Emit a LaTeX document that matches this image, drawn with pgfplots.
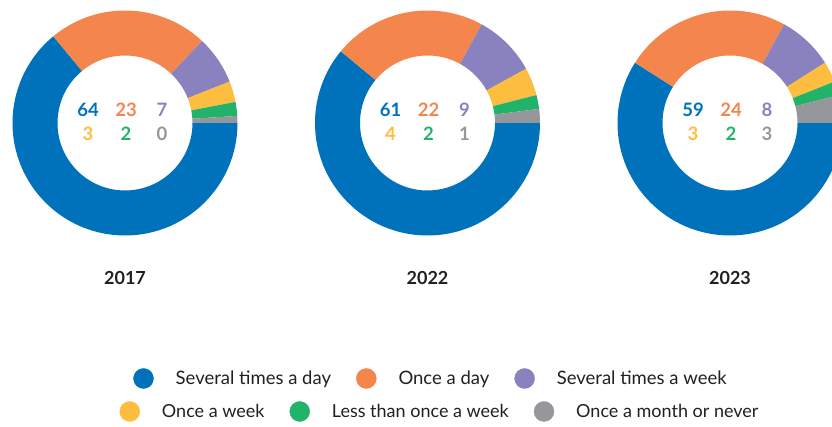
\documentclass[border=0pt]{standalone}
\usepackage{pgfplots}
\usepackage{pgfplotstable}
\usepackage{fontspec}
\setmainfont{Lato}
\pgfplotsset{compat=1.18}
\definecolor{cblue}{HTML}{0072BC}
\definecolor{corange}{HTML}{F4854D}
\definecolor{cpurple}{HTML}{8982BE}
\definecolor{cyellow}{HTML}{FDBE3F}
\definecolor{cgreen}{HTML}{22B36B}
\definecolor{cgray}{HTML}{96979A}
\definecolor{textdark}{HTML}{231F20}

% share (%) of each answer; gray row = remainder to 100
\pgfplotstableread{
freq y2017 y2022 y2023
0 64 61 59
1 23 22 24
2 7 9 8
3 3 4 3
4 2 2 2
5 1 2 4
}\data

\newcommand\donut[3]{%
  \xdef\acc{0}%
  \foreach \r/\c in {0/cblue,1/corange,2/cpurple,3/cyellow,4/cgreen,5/cgray}{%
    \pgfplotstablegetelem{\r}{#3}\of\data
    \pgfmathsetmacro\aone{-\acc*3.6}%
    \pgfmathsetmacro\newacc{\acc+\pgfplotsretval}%
    \xdef\acc{\newacc}%
    \pgfmathsetmacro\atwo{-\acc*3.6}%
    \fill[\c] (axis cs:#1,#2) ++(\aone:112.5pt)
      arc[start angle=\aone, end angle=\atwo, radius=112.5pt]
      -- ++(\atwo:-45pt)
      arc[start angle=\atwo, end angle=\aone, radius=67.5pt] -- cycle;
  }%
}

\newcommand\labels[8]{% cx cy six numbers
  \node[cblue]   at (axis cs:#1-37,#2+13) {#3};
  \node[corange] at (axis cs:#1+1,#2+13) {#4};
  \node[cpurple] at (axis cs:#1+37,#2+13) {#5};
  \node[cyellow] at (axis cs:#1-37,#2-11) {#6};
  \node[cgreen]  at (axis cs:#1+1,#2-11) {#7};
  \node[cgray]   at (axis cs:#1+37,#2-11) {#8};
}

\begin{document}
\begin{tikzpicture}
\begin{axis}[name=ax,
  x=1pt,y=1pt,xmin=0,xmax=832,ymin=0,ymax=427,
  hide axis, clip=true,
  legend image code/.code={\fill[#1] (10pt,0pt) circle (10pt);},
  legend style={at={(axis cs:430,48.5)},anchor=center,draw=none,fill=none,
    legend columns=-1, font=\fontsize{18.5}{21}\selectfont, text=textdark,
    nodes={inner sep=0pt},
    /tikz/every odd column/.append style={column sep=22pt},
    /tikz/every even column/.append style={column sep=25pt}},
]
\addlegendimage{cblue}\addlegendentry{Several times a day}
\addlegendimage{corange}\addlegendentry{Once a day}
\addlegendimage{cpurple}\addlegendentry{Several times a week}
\pgfplotsextra{\donut{125}{304}{y2017}\donut{427.5}{304}{y2022}\donut{730}{304}{y2023}}
\begin{scope}[every node/.style={font=\fontsize{18.5}{20}\selectfont\bfseries}]
\labels{125}{304}{64}{23}{7}{3}{2}{0}
\labels{427.5}{304}{61}{22}{9}{4}{2}{1}
\labels{730}{304}{59}{24}{8}{3}{2}{3}
\end{scope}
\begin{scope}[every node/.style={font=\fontsize{18}{20}\selectfont\bfseries, text=textdark}]
\node at (axis cs:125,149) {2017};
\node at (axis cs:427.5,149) {2022};
\node at (axis cs:730,149) {2023};
\end{scope}
\end{axis}
\begin{axis}[
  x=1pt,y=1pt,xmin=0,xmax=832,ymin=0,ymax=427,
  hide axis, clip=true,
  legend image code/.code={\fill[#1] (10pt,0pt) circle (10pt);},
  legend style={at={(axis cs:439,15.5)},anchor=center,draw=none,fill=none,
    legend columns=-1, font=\fontsize{18}{21}\selectfont, text=textdark,
    nodes={inner sep=0pt},
    /tikz/every odd column/.append style={column sep=22pt},
    /tikz/every even column/.append style={column sep=25pt}},
]
\addlegendimage{cyellow}\addlegendentry{Once a week}
\addlegendimage{cgreen}\addlegendentry{Less than once a week}
\addlegendimage{cgray}\addlegendentry{Once a month or never}
\end{axis}
\pgfresetboundingbox
\useasboundingbox (ax.south west) rectangle (ax.north east);
\end{tikzpicture}
\end{document}
